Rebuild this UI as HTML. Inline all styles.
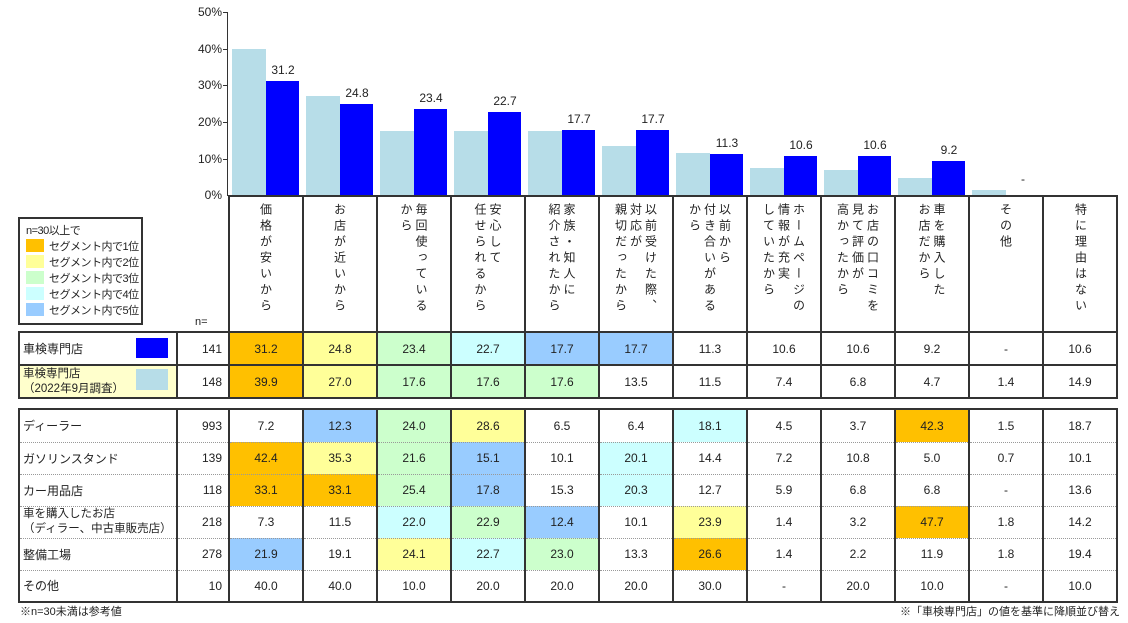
<!DOCTYPE html>
<html><head><meta charset="utf-8"><style>
*{margin:0;padding:0;box-sizing:border-box}
body{width:1128px;height:623px;background:#fff;position:relative;overflow:hidden;font-family:"Liberation Sans","Noto Sans CJK JP",sans-serif;color:#222;font-size:12px}
.a{position:absolute}
.yl{position:absolute;left:188px;width:34px;text-align:right;font-size:12px}
.bl{position:absolute;background:#B7DDE8}
.bd{position:absolute;background:#0000FF}
.vl{position:absolute;width:50px;text-align:center;font-size:12px}
table{position:absolute;border-collapse:collapse;table-layout:fixed}
td{border:2px solid #333;font-size:12px;text-align:center;padding:0}
td.l{text-align:left;padding-left:3px;border-right:2px solid #333;white-space:nowrap}
td.n{text-align:right;padding-right:6px}
.O{background:#FFC000}.Y{background:#FFFF99}.G{background:#CCFFCC}.C{background:#CCFFFF}.B{background:#99CCFF}
#t2 td{border-top:1px dotted #999;border-bottom:1px dotted #999}
#t2 tr:first-child td{border-top:2px solid #333}
#t2 tr:last-child td{border-bottom:2px solid #333}
.vw{position:absolute;top:203px;height:125px;text-align:center}
.vt{display:inline-block;writing-mode:vertical-rl;text-orientation:upright;font-size:12px;line-height:15px;letter-spacing:4px;text-align:left}
.lg div{white-space:nowrap;letter-spacing:-0.5px}
</style></head><body>
<div class="yl" style="top:5px">50%</div>
<div class="yl" style="top:42px">40%</div>
<div class="yl" style="top:78px">30%</div>
<div class="yl" style="top:115px">20%</div>
<div class="yl" style="top:152px">10%</div>
<div class="yl" style="top:188px">0%</div>
<div class="a" style="left:227px;top:12px;width:1px;height:184px;background:#333"></div>
<div class="a" style="left:223px;top:12px;width:5px;height:1px;background:#333"></div>
<div class="a" style="left:223px;top:49px;width:5px;height:1px;background:#333"></div>
<div class="a" style="left:223px;top:85px;width:5px;height:1px;background:#333"></div>
<div class="a" style="left:223px;top:122px;width:5px;height:1px;background:#333"></div>
<div class="a" style="left:223px;top:159px;width:5px;height:1px;background:#333"></div>
<div id="bars"></div>
<div id="hdr"></div>
<div class="a lg" style="left:18px;top:217px;width:125px;height:108px;border:2px solid #333;font-size:11px;padding:4px 0 0 6px;line-height:16px">
<div>n=30以上で</div>
<div><span style="display:inline-block;width:18px;height:13px;background:#FFC000;vertical-align:-2px;margin-right:5px"></span>セグメント内で1位</div>
<div><span style="display:inline-block;width:18px;height:13px;background:#FFFF99;vertical-align:-2px;margin-right:5px"></span>セグメント内で2位</div>
<div><span style="display:inline-block;width:18px;height:13px;background:#CCFFCC;vertical-align:-2px;margin-right:5px"></span>セグメント内で3位</div>
<div><span style="display:inline-block;width:18px;height:13px;background:#CCFFFF;vertical-align:-2px;margin-right:5px"></span>セグメント内で4位</div>
<div><span style="display:inline-block;width:18px;height:13px;background:#99CCFF;vertical-align:-2px;margin-right:5px"></span>セグメント内で5位</div>
</div>
<div class="a" style="left:195px;top:316px;font-size:11px">n=</div>
<table id="t1" style="left:18px;top:331px;width:1100px">
<colgroup><col style="width:158px"><col style="width:52px"><col span="12" style="width:74px"></colgroup>
<tr style="height:33px"><td class="l">車検専門店</td><td class="n">141</td><td class="O">31.2</td><td class="Y">24.8</td><td class="G">23.4</td><td class="C">22.7</td><td class="B">17.7</td><td class="B">17.7</td><td>11.3</td><td>10.6</td><td>10.6</td><td>9.2</td><td>-</td><td>10.6</td></tr>
<tr style="height:33px"><td class="l" style="background:#FFFFCC;line-height:15px;font-size:11.5px">車検専門店<br>（2022年9月調査）</td><td class="n">148</td><td class="O">39.9</td><td class="Y">27.0</td><td class="G">17.6</td><td class="G">17.6</td><td class="G">17.6</td><td>13.5</td><td>11.5</td><td>7.4</td><td>6.8</td><td>4.7</td><td>1.4</td><td>14.9</td></tr>
</table>
<div class="a" style="left:136px;top:338px;width:32px;height:20px;background:#0000FF"></div>
<div class="a" style="left:136px;top:369px;width:32px;height:21px;background:#B7DDE8"></div>
<table id="t2" style="left:18px;top:408px;width:1100px">
<colgroup><col style="width:158px"><col style="width:52px"><col span="12" style="width:74px"></colgroup>
<tr style="height:33px"><td class="l">ディーラー</td><td class="n">993</td><td>7.2</td><td class="B">12.3</td><td class="G">24.0</td><td class="Y">28.6</td><td>6.5</td><td>6.4</td><td class="C">18.1</td><td>4.5</td><td>3.7</td><td class="O">42.3</td><td>1.5</td><td>18.7</td></tr>
<tr style="height:32px"><td class="l">ガソリンスタンド</td><td class="n">139</td><td class="O">42.4</td><td class="Y">35.3</td><td class="G">21.6</td><td class="B">15.1</td><td>10.1</td><td class="C">20.1</td><td>14.4</td><td>7.2</td><td>10.8</td><td>5.0</td><td>0.7</td><td>10.1</td></tr>
<tr style="height:32px"><td class="l">カー用品店</td><td class="n">118</td><td class="O">33.1</td><td class="O">33.1</td><td class="G">25.4</td><td class="B">17.8</td><td>15.3</td><td class="C">20.3</td><td>12.7</td><td>5.9</td><td>6.8</td><td>6.8</td><td>-</td><td>13.6</td></tr>
<tr style="height:32px"><td class="l" style="line-height:15px;font-size:11.5px">車を購入したお店<br>（ディラー、中古車販売店）</td><td class="n">218</td><td>7.3</td><td>11.5</td><td class="C">22.0</td><td class="G">22.9</td><td class="B">12.4</td><td>10.1</td><td class="Y">23.9</td><td>1.4</td><td>3.2</td><td class="O">47.7</td><td>1.8</td><td>14.2</td></tr>
<tr style="height:32px"><td class="l">整備工場</td><td class="n">278</td><td class="B">21.9</td><td>19.1</td><td class="Y">24.1</td><td class="C">22.7</td><td class="G">23.0</td><td>13.3</td><td class="O">26.6</td><td>1.4</td><td>2.2</td><td>11.9</td><td>1.8</td><td>19.4</td></tr>
<tr style="height:32px"><td class="l">その他</td><td class="n">10</td><td>40.0</td><td>40.0</td><td>10.0</td><td>20.0</td><td>20.0</td><td>20.0</td><td>30.0</td><td>-</td><td>20.0</td><td>10.0</td><td>-</td><td>10.0</td></tr>
</table>
<div class="a" style="left:20px;top:603px;font-size:11px">※n=30未満は参考値</div>
<div class="a" style="right:8px;top:603px;font-size:11px">※「車検専門店」の値を基準に降順並び替え</div>
<script>
var cur=[31.2,24.8,23.4,22.7,17.7,17.7,11.3,10.6,10.6,9.2,null];
var prev=[39.9,27.0,17.6,17.6,17.6,13.5,11.5,7.4,6.8,4.7,1.4];
var s=3.66,z=195,h='';
for(var i=0;i<11;i++){var x=228+74*i;
var hp=prev[i]*s;h+='<div class="bl" style="left:'+(x+4)+'px;top:'+(z-hp)+'px;width:34px;height:'+hp+'px"></div>';
if(cur[i]!==null){var hc=cur[i]*s;h+='<div class="bd" style="left:'+(x+38)+'px;top:'+(z-hc)+'px;width:33px;height:'+hc+'px"></div>';
h+='<div class="vl" style="left:'+(x+30)+'px;top:'+(z-hc-18)+'px">'+cur[i].toFixed(1)+'</div>';}
else h+='<div class="vl" style="left:'+(x+30)+'px;top:'+(z-hp-18)+'px">-</div>';}
document.getElementById('bars').innerHTML=h;
var hd=['価格が安いから','お店が近いから','毎回使っている<br>から','安心して<br>任せられるから','家族・知人に<br>紹介されたから','以前受けた際、<br>対応が<br>親切だったから','以前から<br>付き合いがある<br>から','ホームページの<br>情報が充実<br>していたから','お店の口コミを<br>見て評価が<br>高かったから','車を購入した<br>お店だから','その他','特に理由はない'];
var g='';
for(var i=0;i<12;i++){var x=228+74*i;var w=(i==11?76:74);
g+='<div class="a" style="left:'+x+'px;top:195px;width:'+w+'px;height:137px;border-left:2px solid #333;border-top:2px solid #333;'+(i==11?'border-right:2px solid #333;':'')+'"></div>';
g+='<div class="vw" style="left:'+x+'px;width:'+w+'px"><div class="vt">'+hd[i]+'</div></div>';}
document.getElementById('hdr').innerHTML=g;
</script>
</body></html>
